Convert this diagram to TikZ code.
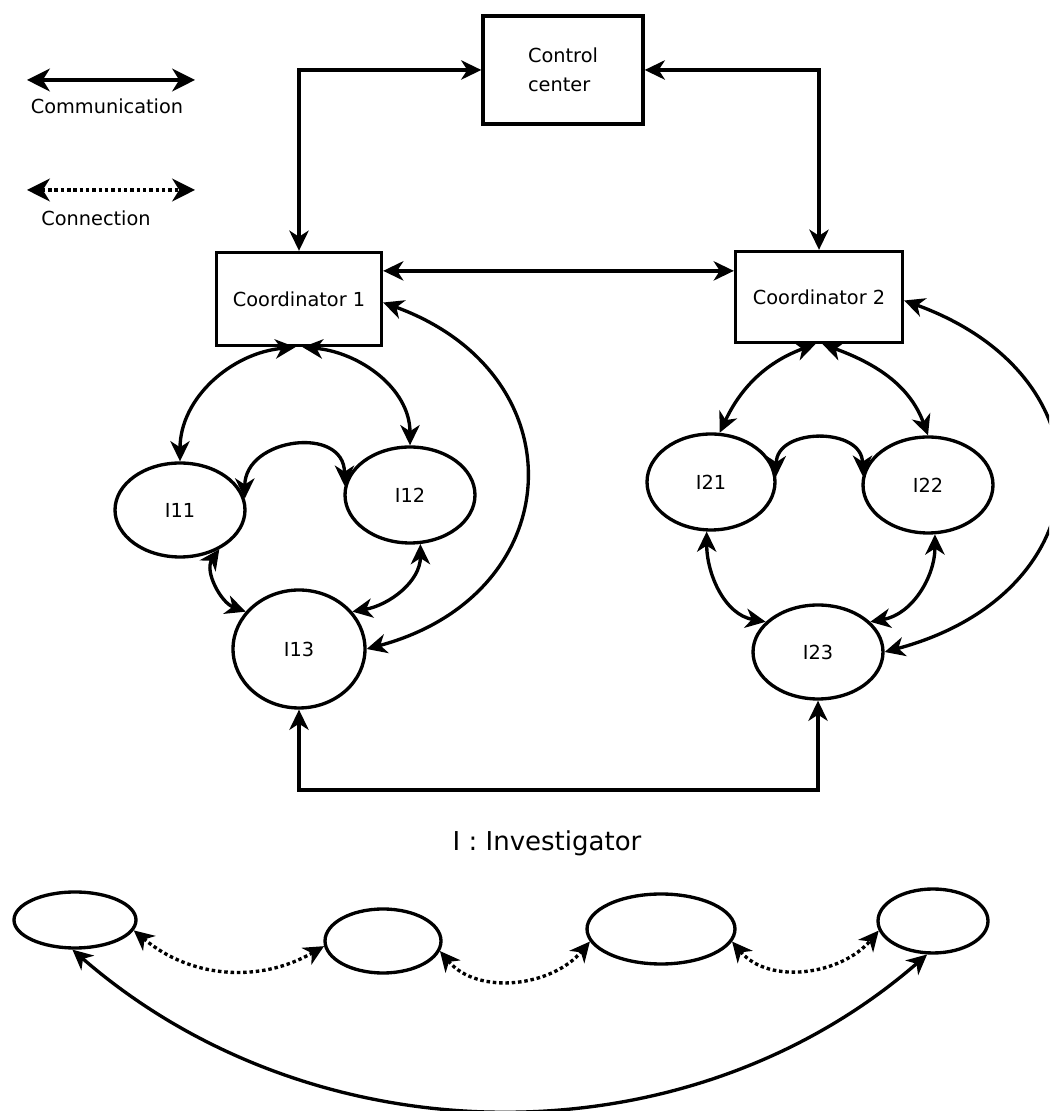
\documentclass[tikz,border=0pt]{standalone}
\usepackage{fontspec}
\setmainfont{DejaVu Sans}
\usetikzlibrary{arrows.meta,shapes.geometric}

\begin{document}
\begin{tikzpicture}[x=0.02cm,y=0.02cm,line width=1.9pt,
    >={Stealth[length=11.5pt,width=11pt,inset=3.5pt]},
    box/.style={draw,rectangle,inner sep=0pt,font=\fontsize{11}{16.5}\selectfont},
    inv/.style={draw,ellipse,inner sep=0pt,font=\fontsize{11}{13}\selectfont},
    link/.style={<->},
    conn/.style={<->,dash pattern=on 2pt off 1.6pt}]

\useasboundingbox (0,0) rectangle (1049,1111);
\clip (0,0) rectangle (1049,1111);

% legend
\coordinate (la) at (27,1031);
\coordinate (lb) at (195,1031);
\coordinate (lc) at (27,921);
\coordinate (ld) at (195,921);
\draw[link,>={Stealth[length=13pt,width=13pt,inset=4pt]}] (la) -- (lb);
\draw[conn,>={Stealth[length=13pt,width=13pt,inset=4pt]}] (lc) -- (ld);
\node[font=\fontsize{11}{13}\selectfont] (comm) at (107,1005) {Communication};
\node[font=\fontsize{11}{13}\selectfont] (conn) at (96,893) {Connection};

\node[box,minimum width=3.2cm,minimum height=2.16cm,align=left] (cc) at (563,1041) {Control\\center};
\node[box,minimum width=3.3cm,minimum height=1.86cm] (co1) at (299,812) {Coordinator 1};
\node[box,minimum width=3.34cm,minimum height=1.82cm] (co2) at (819,814) {Coordinator 2};

\node[inv,minimum width=2.6cm,minimum height=1.88cm] (i11) at (180,601) {I11};
\node[inv,minimum width=2.6cm,minimum height=1.92cm] (i12) at (410,616) {I12};
\node[inv,minimum width=2.64cm,minimum height=2.36cm] (i13) at (299,462) {I13};
\node[inv,minimum width=2.56cm,minimum height=1.92cm] (i21) at (711,629) {I21};
\node[inv,minimum width=2.6cm,minimum height=1.92cm] (i22) at (928,626) {I22};
\node[inv,minimum width=2.6cm,minimum height=1.88cm] (i23) at (818,459) {I23};

\draw[link] (cc.west) -| (co1.north);
\draw[link] (cc.east) -| (co2.north);
\coordinate (cl) at ([yshift=16pt]co1.east);
\draw[link] (cl) -- (cl -| co2.west);

% first group
\draw[link] ([xshift=-2pt]co1.south) to[out=185,in=90] (i11.north);
\draw[link] ([xshift=2pt]co1.south) to[out=-5,in=90] (i12.north);
\draw[link] (i11.10) to[out=90,in=90,looseness=1.55] (i12.172);
\draw[link] (i11.-45) to[out=235,in=160] (i13.145);
\draw[link] (i12.-78) to[out=-90,in=10] (i13.35);
\draw[link] ([yshift=-2pt]co1.east) to[out=-20,in=15,looseness=1.55] (i13.east);

% second group
\draw[link] ([xshift=-2pt]co2.south) to[out=200,in=65] (i21.80);
\draw[link] ([xshift=2pt]co2.south) to[out=-20,in=110] (i22.north);
\draw[link] (i21.5) to[out=90,in=90,looseness=1.45] (i22.172);
\draw[link] (i21.-95) to[out=-90,in=170] (i23.150);
\draw[link] (i22.-82) to[out=-90,in=10] (i23.30);
\draw[link] ([yshift=-2pt]co2.east) to[out=-20,in=15,looseness=1.65] (i23.east);

\coordinate (bus) at (560,321);
\draw[link] (i13.south) |- (bus) -| (i23.south);

\node[font=\fontsize{14.8}{17}\selectfont] (key) at (547,268) {I : Investigator};

% chain
\node[draw,ellipse,minimum width=2.44cm,minimum height=1.12cm] (ea) at (75,191) {};
\node[draw,ellipse,minimum width=2.32cm,minimum height=1.28cm] (eb) at (383,170) {};
\node[draw,ellipse,minimum width=2.96cm,minimum height=1.4cm] (ec) at (661,182) {};
\node[draw,ellipse,minimum width=2.2cm,minimum height=1.28cm] (ed) at (933,190) {};

\draw[conn] (ea.-10) to[out=-40,in=-150] (eb.185);
\draw[conn] (eb.-10) to[out=-50,in=-130] (ec.190);
\draw[conn] (ec.-10) to[out=-50,in=-130] (ed.190);
\draw[link] (ea.-95) to[out=-41,in=-139,looseness=0.96] (ed.-100);

\end{tikzpicture}
\end{document}
